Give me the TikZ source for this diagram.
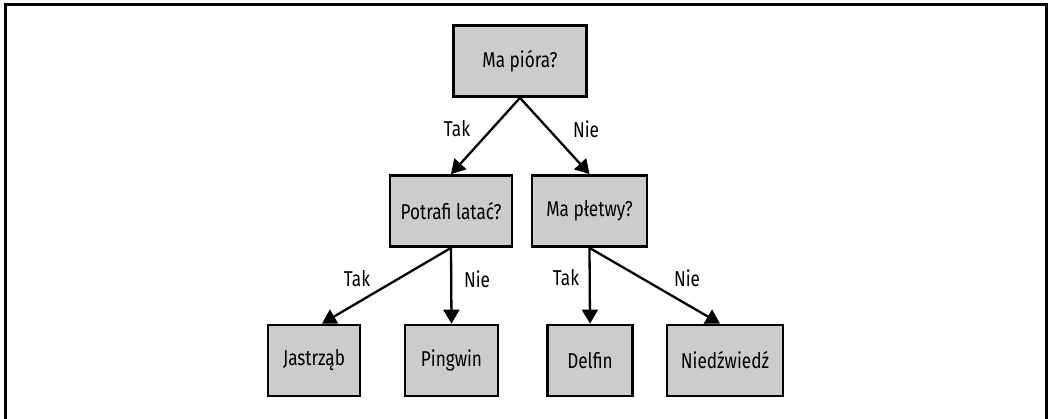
\documentclass[tikz,border=0pt]{standalone}
\usepackage{fontspec}
\setmainfont{Fira Sans}[FakeStretch=0.8]
\usetikzlibrary{arrows.meta}
\definecolor{boxgray}{HTML}{CCCCCC}
\tikzset{
  question/.style={draw, line width=2.8pt, fill=boxgray, minimum height=71pt,
    inner sep=0pt, font=\fontsize{21.5}{25}\selectfont},
  answer/.style={inner sep=0pt, font=\fontsize{21.5}{25}\selectfont},
  yesno/.style={line width=2.3pt, -{Triangle[length=14pt,width=16pt]}}
}

\begin{document}
\begin{tikzpicture}[x=1pt,y=-1pt]
  \useasboundingbox (0,0) rectangle (1049,419);
  \draw[line width=3pt] (5.5,419) -- (5.5,5) -- (1046.5,5) -- (1046.5,419);

	\node[question, minimum width=133pt] (feathers) at (520,61) {Ma pióra?};
	\node[question, minimum width=122pt] (fly) at (451,211) {Potrafi latać?};
	\node[question, minimum width=115pt] (fins) at (589.5,211) {Ma płetwy?};
	\node[question, minimum width=92pt] (hawk) at (314,360.5) {Jastrząb};
	\node[question, minimum width=93pt] (penguin) at (451.5,360.5) {Pingwin};
	\node[question, minimum width=85pt] (dolphin) at (590,360.5) {Delfin};
	\node[question, minimum width=116pt] (bear) at (725,360.5) {Niedźwiedź};

  \node[answer] (t1) at (457,129) {Tak};
  \node[answer] (n1) at (586,129) {Nie};
  \node[answer] (t2) at (357,279) {Tak};
  \node[answer] (n2) at (477,279) {Nie};
  \node[answer] (t3) at (566,278) {Tak};
  \node[answer] (n3) at (687,278) {Nie};

  \path[yesno] (feathers.south) edge (fly.north);
  \path[yesno] (feathers.south) edge (fins.north);
  \path[yesno] (fly.south) edge ([xshift=8pt]hawk.north);
  \path[yesno] (fly.south) edge (penguin.north);
  \path[yesno] (fins.south) edge (dolphin.north);
  \path[yesno] (fins.south) edge ([xshift=-5pt]bear.north);

\end{tikzpicture}
\end{document}
